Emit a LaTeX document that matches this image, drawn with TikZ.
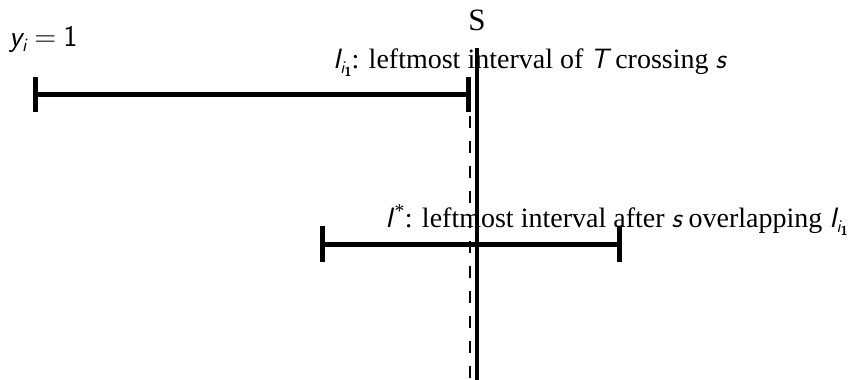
\documentclass[tikz,border=0pt]{standalone}
\usepackage{fontspec}
\setmainfont{Liberation Serif}
\newcommand{\mi}[1]{{\sffamily\itshape #1}}
\newcommand{\Isub}{\mi{I}\raisebox{-5pt}{\fontsize{18}{18}\selectfont\mi{i}\raisebox{-3pt}{\fontsize{13}{13}\selectfont\sffamily\bfseries 1}}}
\begin{document}
\begin{tikzpicture}[x=1pt,y=-1pt,
  bar/.style={line width=5pt},
  tick/.style={line width=5pt},
  lbl/.style={inner sep=0pt,font=\fontsize{28}{30}\selectfont}]
\useasboundingbox (0,0) rectangle (849,380);
% solid vertical line s
\coordinate (stop) at (477,48);
\coordinate (sbot) at (477,380);
\draw[line width=4pt] (stop) -- (sbot);
% dashed line
\coordinate (dtop) at (470,112);
\coordinate (dbot) at (470,380);
\draw[line width=2pt,dash pattern=on 12pt off 13pt,dash phase=-4pt] (dtop) -- (dbot);
% top interval
\coordinate (a1) at (35,94); \coordinate (a2) at (468,94);
\draw[bar] (a1) -- (a2);
\draw[tick] ([yshift=-18pt]a1) -- ([yshift=17pt]a1);
\draw[tick] ([yshift=-18pt]a2) -- ([yshift=17pt]a2);
% bottom interval
\coordinate (b1) at (322,244); \coordinate (b2) at (619,244);
\draw[bar] (b1) -- (b2);
\draw[tick] ([yshift=-18pt]b1) -- ([yshift=18pt]b1);
\draw[tick] ([yshift=-18pt]b2) -- ([yshift=18pt]b2);
% labels
\node[lbl,anchor=base,font=\fontsize{31}{33}\selectfont] (S) at (477,30) {S};
\node[lbl,anchor=base west,font=\fontsize{30}{32}\selectfont] (yl) at (9,46) {\mi{y}\raisebox{-5pt}{\fontsize{19}{19}\selectfont\mi{i}}\kern8pt{\sffamily=\kern7pt 1}};
\node[lbl,anchor=base west] (l1) at (333,68) {\Isub: leftmost interval of \mi{T} crossing \mi{s}};
\node[lbl,anchor=base east] (l2) at (848,227) {\mi{I}\kern2pt\textsuperscript{*}: leftmost interval after \mi{s} overlapping \Isub};
\end{tikzpicture}
\end{document}
